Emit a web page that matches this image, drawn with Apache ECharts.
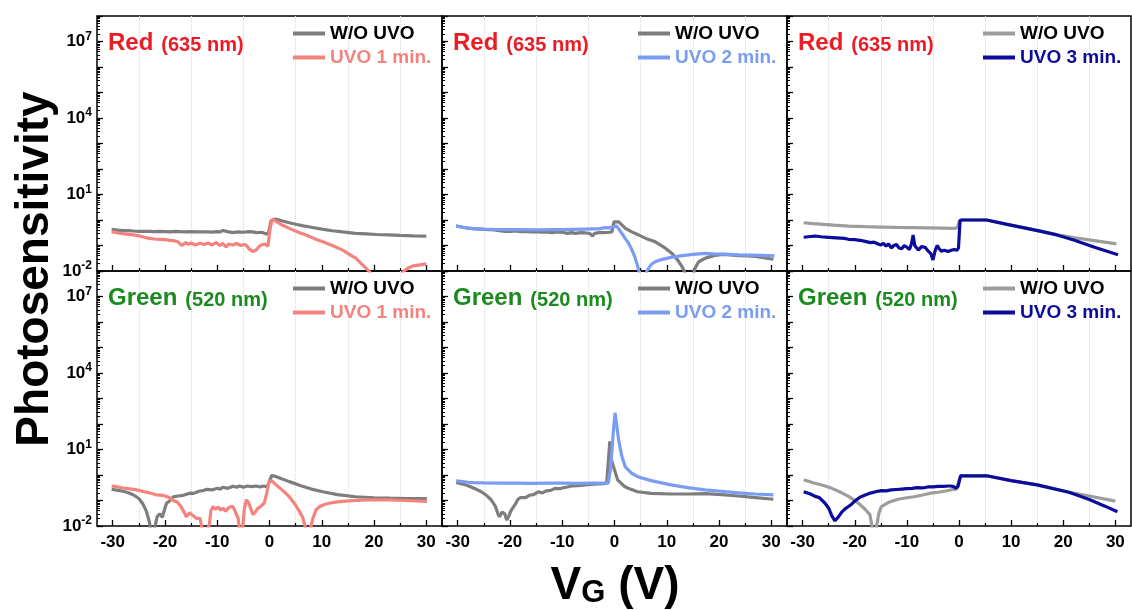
<!DOCTYPE html>
<html>
<head>
<meta charset="utf-8">
<title>Photosensitivity vs gate voltage</title>
<script src="https://cdn.jsdelivr.net/npm/echarts@6/dist/echarts.min.js"></script>
<style>
  html, body { margin: 0; padding: 0; background: #fff; }
  #chart { width: 1132px; height: 610px; }
</style>
</head>
<body>
<div id="chart"></div>
<script>
// ---- axis ticks ----------------------------------------------------------
const xMajorTicks = [-30, -20, -10, 0, 10, 20, 30];
const xMinorTicks = [-25, -15, -5, 5, 15, 25];
const yLabelledExponents = [-2, 1, 4, 7];

// ---- series: [gate voltage (V), photosensitivity] ------------------------
// Red (635 nm)
const redWoUvoA = [[-30.2,0.43],[-29,0.40],[-28,0.38],[-27,0.385],[-26,0.37],[-25,0.36],[-24,0.355],[-23,0.36],[-22,0.35],[-21,0.355],[-20,0.35],[-19,0.345],[-18,0.36],[-17,0.35],[-16,0.345],[-15,0.35],[-14,0.34],[-13,0.345],[-12,0.34],[-11,0.335],[-10,0.35],[-9.5,0.34],[-8.9,0.39],[-8,0.35],[-7,0.32],[-6,0.34],[-5,0.33],[-4,0.35],[-3.2,0.34],[-2.5,0.32],[-1.5,0.33],[-0.6,0.28],[-0.2,0.30],[0.3,0.92],[0.8,1.05],[1.5,1.05],[2.5,0.92],[3.8,0.78],[5,0.68],[6.5,0.59],[8,0.52],[10,0.44],[12,0.38],[14,0.34],[16.4,0.30],[18.5,0.285],[20.5,0.27],[22.8,0.26],[25,0.25],[27.5,0.24],[30,0.235]];
const redUvo1 = [[-30.2,0.35],[-29,0.31],[-28,0.29],[-27,0.275],[-26,0.26],[-25,0.24],[-24,0.21],[-23,0.19],[-22,0.18],[-21,0.175],[-20,0.17],[-19,0.16],[-18.4,0.155],[-17.5,0.14],[-16.8,0.10],[-16.5,0.089],[-16,0.13],[-15.5,0.11],[-15,0.125],[-14.2,0.105],[-13.3,0.123],[-12.5,0.11],[-11.8,0.125],[-11,0.105],[-10.2,0.13],[-9.5,0.10],[-9,0.12],[-8.3,0.088],[-7.8,0.115],[-7,0.105],[-6.3,0.12],[-5.5,0.10],[-4.8,0.11],[-4.4,0.10],[-3.8,0.07],[-3.2,0.058],[-2.6,0.065],[-1.9,0.095],[-1.3,0.11],[-0.9,0.115],[-0.3,0.095],[0.1,0.45],[0.5,1.05],[1.2,0.9],[2.5,0.62],[3.8,0.47],[5.5,0.33],[7,0.26],[8.5,0.19],[10.2,0.14],[12,0.10],[14,0.066],[15.5,0.042],[16.5,0.032],[17.5,0.02],[18.3,0.014],[19,0.01],[20.5,0.004],[22,0.0015],[23.5,0.003],[25,0.0065],[25.7,0.01],[26.5,0.013],[27.5,0.016],[28.5,0.017],[30,0.019]];
const redWoUvoB = [[-30.3,0.58],[-29,0.52],[-28,0.48],[-27,0.46],[-25,0.43],[-23,0.41],[-21,0.36],[-20,0.355],[-19,0.37],[-18,0.35],[-17,0.36],[-16,0.34],[-15,0.35],[-14,0.33],[-13,0.34],[-12,0.32],[-11,0.34],[-10,0.33],[-9,0.30],[-8.2,0.32],[-7.5,0.30],[-6.5,0.32],[-5.5,0.31],[-4.8,0.30],[-4.2,0.235],[-3.8,0.30],[-3,0.32],[-2,0.32],[-1,0.33],[-0.5,0.34],[-0.1,0.85],[0.2,1.0],[0.8,0.85],[1.5,0.62],[2.1,0.47],[3.2,0.35],[4.6,0.26],[6,0.19],[7.8,0.14],[9.5,0.085],[11,0.049],[12.2,0.025],[13,0.014],[13.5,0.008],[14.2,0.002],[14.9,0.006],[15.5,0.014],[16.1,0.023],[17.4,0.032],[19,0.04],[20.6,0.045],[22,0.043],[23.8,0.04],[25.5,0.039],[27,0.037],[28.5,0.033],[30.4,0.029]];
const redUvo2 = [[-30.3,0.59],[-29,0.52],[-28,0.48],[-27,0.46],[-25,0.44],[-23,0.43],[-20,0.42],[-18,0.42],[-15,0.41],[-12,0.42],[-10,0.42],[-8,0.43],[-6,0.44],[-4,0.45],[-3,0.45],[-1.8,0.50],[-1,0.49],[0,0.55],[0.4,0.58],[0.8,0.45],[1.5,0.28],[2.2,0.17],[2.7,0.123],[3.3,0.07],[3.9,0.035],[4.4,0.016],[4.8,0.008],[5.3,0.002],[5.8,0.005],[6.2,0.01],[7,0.018],[7.8,0.023],[9,0.028],[11,0.035],[13,0.04],[15,0.045],[17.4,0.049],[19,0.047],[21,0.046],[23.8,0.043],[26,0.042],[28,0.041],[30.6,0.039]];
const redWoUvoC = [[-29.8,0.78],[-28,0.72],[-26,0.67],[-24,0.63],[-21.2,0.58],[-18,0.55],[-15,0.53],[-12,0.51],[-9,0.50],[-6,0.49],[-3,0.48],[-0.9,0.47],[-0.3,0.50],[0.1,0.95],[0.5,1.0],[2,1.0],[4,1.0],[5.3,1.0],[9,0.69],[13,0.47],[16,0.35],[18.8,0.26],[22,0.205],[26,0.155],[30.2,0.115]];
const redUvo3 = [[-29.8,0.21],[-28.5,0.225],[-27.6,0.235],[-26.5,0.22],[-25,0.21],[-23.5,0.20],[-22,0.19],[-21.2,0.175],[-20,0.17],[-19,0.16],[-18,0.145],[-17,0.13],[-16.3,0.135],[-15.5,0.115],[-15,0.105],[-14.5,0.12],[-14,0.095],[-13.5,0.115],[-13,0.08],[-12.5,0.10],[-12,0.11],[-11.5,0.08],[-11,0.075],[-10.5,0.10],[-10,0.085],[-9.5,0.07],[-9.1,0.12],[-8.8,0.26],[-8.5,0.10],[-8.2,0.085],[-7.8,0.066],[-7.2,0.09],[-6.5,0.085],[-5.9,0.06],[-5.4,0.048],[-5,0.027],[-4.6,0.06],[-4.2,0.10],[-3.8,0.075],[-3.4,0.06],[-2.8,0.065],[-2.1,0.058],[-1.5,0.065],[-0.9,0.07],[-0.4,0.065],[-0.1,0.08],[0.2,0.95],[0.6,1.0],[2,1.0],[4,1.0],[5.3,1.0],[9,0.69],[13,0.47],[16,0.35],[18.8,0.26],[22,0.165],[26,0.085],[30.5,0.043]];

// Green (520 nm)
const greenWoUvoA = [[-30.2,0.275],[-29,0.25],[-28,0.23],[-27,0.20],[-26,0.165],[-25,0.12],[-24.3,0.078],[-23.6,0.04],[-23,0.015],[-22.6,0.004],[-22.2,0.005],[-21.8,0.012],[-21.5,0.023],[-21,0.03],[-20.5,0.022],[-20,0.05],[-19.7,0.078],[-19,0.10],[-18.4,0.14],[-17.5,0.15],[-16.5,0.16],[-15.2,0.195],[-14.5,0.19],[-13.5,0.23],[-12.5,0.25],[-12,0.275],[-11,0.26],[-10,0.30],[-9.5,0.28],[-8.9,0.33],[-8,0.30],[-7,0.36],[-6.3,0.33],[-5.7,0.37],[-5,0.33],[-4.2,0.37],[-3.5,0.35],[-2.5,0.37],[-1.8,0.34],[-1.3,0.37],[-0.4,0.35],[0.4,0.95],[1.2,0.88],[2.3,0.72],[3.8,0.55],[6,0.38],[8,0.28],[10.2,0.22],[13,0.17],[16.5,0.14],[20,0.128],[23,0.123],[26.5,0.12],[30.1,0.12]];
const greenUvo1 = [[-30.2,0.37],[-29,0.34],[-28,0.31],[-27,0.29],[-26,0.275],[-25,0.25],[-24,0.22],[-23,0.20],[-21.5,0.165],[-20.5,0.16],[-20,0.15],[-19.2,0.13],[-18.4,0.10],[-17.6,0.085],[-17,0.06],[-16.5,0.04],[-15.9,0.023],[-15.3,0.033],[-14.6,0.025],[-14,0.02],[-13.3,0.02],[-12.9,0.008],[-12.5,0.003],[-12,0.006],[-11.5,0.012],[-11.2,0.04],[-10.8,0.058],[-10.3,0.045],[-9.8,0.055],[-9.3,0.042],[-8.9,0.05],[-8.4,0.038],[-8,0.048],[-7.5,0.056],[-7,0.058],[-6.5,0.035],[-6,0.02],[-5.6,0.004],[-5.2,0.006],[-4.8,0.05],[-4.4,0.107],[-4,0.08],[-3.6,0.05],[-3.2,0.028],[-2.7,0.035],[-2.2,0.05],[-1.6,0.06],[-1,0.08],[-0.5,0.20],[-0.1,0.55],[0.4,0.60],[1.2,0.42],[2.5,0.25],[3.8,0.14],[5,0.065],[5.8,0.035],[6.3,0.023],[6.8,0.01],[7.3,0.003],[7.8,0.007],[8.3,0.02],[8.9,0.043],[9.6,0.058],[10.5,0.07],[11.4,0.078],[13,0.088],[14.5,0.095],[16.5,0.10],[19,0.105],[22.8,0.105],[26,0.10],[30.1,0.093]];
const greenWoUvoB = [[-30.3,0.51],[-29,0.44],[-28,0.38],[-27,0.31],[-26,0.25],[-25.5,0.22],[-24.5,0.16],[-23.6,0.107],[-22.8,0.06],[-22.3,0.03],[-22,0.023],[-21.5,0.035],[-21,0.03],[-20.6,0.017],[-20.2,0.025],[-19.8,0.04],[-19,0.07],[-18.5,0.11],[-18,0.13],[-17.7,0.145],[-17,0.13],[-16.3,0.16],[-15.5,0.17],[-14.6,0.22],[-13.8,0.20],[-13,0.24],[-12.2,0.25],[-11.4,0.30],[-10.5,0.29],[-10,0.31],[-9,0.34],[-8.2,0.37],[-7,0.38],[-6,0.40],[-5,0.42],[-4,0.44],[-3,0.45],[-2,0.46],[-1.5,0.48],[-1.2,3],[-0.9,21],[-0.6,4],[0,1.58],[0.6,0.65],[1.9,0.355],[3,0.28],[4.4,0.22],[7,0.19],[10.8,0.18],[14,0.18],[17.3,0.185],[20.5,0.17],[23.7,0.15],[27,0.13],[30.4,0.112]];
const greenUvo2 = [[-30.3,0.59],[-29,0.55],[-28,0.52],[-27,0.50],[-25,0.49],[-22,0.48],[-19,0.48],[-16,0.47],[-13,0.48],[-10,0.48],[-7,0.47],[-4,0.48],[-2,0.48],[-1.2,0.48],[-0.8,1.5],[-0.5,8],[-0.2,60],[0.1,275],[0.45,81],[0.77,25],[1.4,5.4],[2.05,2.1],[3.3,1.17],[4.6,0.83],[7,0.60],[10.8,0.41],[14,0.32],[17.3,0.26],[20.5,0.23],[23.7,0.20],[27,0.18],[30.4,0.165]];
const greenWoUvoC = [[-29.8,0.65],[-28,0.50],[-26,0.39],[-24.4,0.30],[-22.5,0.20],[-21.2,0.145],[-20,0.10],[-19.3,0.078],[-18.2,0.05],[-17.1,0.028],[-16.6,0.008],[-16.2,0.002],[-15.8,0.01],[-15.4,0.03],[-14.9,0.058],[-13.5,0.085],[-11.7,0.112],[-10,0.128],[-8.6,0.14],[-7,0.165],[-5.4,0.195],[-4,0.21],[-2.5,0.235],[-1,0.275],[-0.5,0.28],[0.3,0.93],[2,0.93],[5.3,0.93],[10,0.60],[15,0.41],[21.1,0.21],[25,0.15],[30,0.095]];
const greenUvo3 = [[-29.8,0.22],[-28.5,0.18],[-27.6,0.145],[-26.8,0.13],[-25.7,0.078],[-25,0.05],[-24.4,0.025],[-23.8,0.016],[-23.2,0.022],[-22.5,0.035],[-21.8,0.048],[-21.2,0.058],[-20.5,0.075],[-20,0.095],[-19,0.135],[-18,0.165],[-17,0.195],[-16,0.22],[-14.9,0.245],[-14,0.24],[-13,0.26],[-12,0.27],[-11,0.28],[-10,0.29],[-9,0.30],[-8,0.32],[-7,0.31],[-6,0.34],[-5,0.34],[-4,0.36],[-3,0.36],[-2,0.37],[-1.6,0.37],[-1,0.35],[-0.6,0.30],[-0.2,0.35],[0.3,0.93],[2,0.93],[5.3,0.93],[10,0.60],[15,0.41],[21.1,0.21],[25,0.11],[28,0.06],[30.4,0.036]];

// ---- styling ---------------------------------------------------------------
const FONT = '"Liberation Sans", Arial, Helvetica, sans-serif';
const GRAY_DARK = '#7d7d7d';
const GRAY_LIGHT = '#9d9d9d';
const RED = '#ec1c24';
const GREEN = '#1b8a1f';
const UVO_COLORS = ['#f5837d', '#7b9cf4', '#0b0b9c'];
const UVO_NAMES = ['UVO 1 min.', 'UVO 2 min.', 'UVO 3 min.'];

const COL_LEFT = [97, 442, 787];
const COL_WIDTH = [345, 345, 344];
const ROW_TOP = [16, 271];
const ROW_HEIGHT = 255;

const panels = [
  { row: 0, col: 0, band: 'Red', wave: '(635 nm)', color: RED, wo: redWoUvoA, uvo: redUvo1 },
  { row: 0, col: 1, band: 'Red', wave: '(635 nm)', color: RED, wo: redWoUvoB, uvo: redUvo2 },
  { row: 0, col: 2, band: 'Red', wave: '(635 nm)', color: RED, wo: redWoUvoC, uvo: redUvo3 },
  { row: 1, col: 0, band: 'Green', wave: '(520 nm)', color: GREEN, wo: greenWoUvoA, uvo: greenUvo1 },
  { row: 1, col: 1, band: 'Green', wave: '(520 nm)', color: GREEN, wo: greenWoUvoB, uvo: greenUvo2 },
  { row: 1, col: 2, band: 'Green', wave: '(520 nm)', color: GREEN, wo: greenWoUvoC, uvo: greenUvo3 }
];

// log-scale minor tick positions (2..9 × 10^n), as decade exponents
const yMinorTicks = [];
for (let n = -2; n < 8; n++) {
  for (let k = 2; k <= 9; k++) yMinorTicks.push(n + Math.log10(k));
}

const toDecades = pts => pts.map(([v, s]) => [v, Math.log10(s)]);

const grids = [], xAxes = [], yAxes = [], series = [], legends = [], titles = [];

panels.forEach((p, i) => {
  const woColor = p.col === 2 ? GRAY_LIGHT : GRAY_DARK;
  const uvoColor = UVO_COLORS[p.col];
  const uvoName = UVO_NAMES[p.col];
  const left = COL_LEFT[p.col], top = ROW_TOP[p.row];

  grids.push({
    left: left, top: top, width: COL_WIDTH[p.col], height: ROW_HEIGHT,
    show: true, borderColor: '#000', borderWidth: 1.5, backgroundColor: 'transparent'
  });

  // major x ticks (labelled on the bottom row)
  xAxes.push({
    type: 'value', gridIndex: i, min: -33, max: 33, position: 'bottom',
    axisLine: { show: false, onZero: false },
    axisTick: { show: true, inside: true, length: 6, customValues: xMajorTicks, lineStyle: { color: '#000', width: 1.3 } },
    axisLabel: { show: p.row === 1, customValues: xMajorTicks, margin: 8, color: '#000',
      fontFamily: FONT, fontWeight: 'bold', fontSize: 17 },
    splitLine: { show: false }
  });
  // minor x ticks with dotted guide lines
  xAxes.push({
    type: 'value', gridIndex: i, min: -33, max: 33, position: 'bottom',
    axisLine: { show: false, onZero: false },
    axisTick: { show: true, inside: true, length: 3, customValues: xMinorTicks, lineStyle: { color: '#000', width: 1.2 } },
    axisLabel: { show: false },
    splitLine: { show: true, lineStyle: { color: '#dadada', type: 'dotted', width: 1 } }
  });

  // decade ticks
  yAxes.push({
    type: 'value', gridIndex: i, min: -2, max: 8, interval: 1, position: 'left',
    axisLine: { show: false, onZero: false },
    axisTick: { show: true, inside: true, length: 6, lineStyle: { color: '#000', width: 1.3 } },
    axisLabel: {
      show: p.col === 0, margin: 5,
      formatter: v => yLabelledExponents.includes(v) ? `{b|10}{s|${v}}` : '',
      rich: {
        b: { fontFamily: FONT, fontWeight: 'bold', fontSize: 17, color: '#000', lineHeight: 22, verticalAlign: 'middle' },
        s: { fontFamily: FONT, fontWeight: 'bold', fontSize: 12, color: '#000', lineHeight: 14, verticalAlign: 'top' }
      }
    },
    splitLine: { show: false }
  });
  // minor log ticks
  yAxes.push({
    type: 'value', gridIndex: i, min: -2, max: 8, position: 'left',
    axisLine: { show: false, onZero: false },
    axisTick: { show: true, inside: true, length: 3, customValues: yMinorTicks, lineStyle: { color: '#000', width: 1 } },
    axisLabel: { show: false },
    splitLine: { show: false }
  });

  series.push({
    name: 'W/O UVO', type: 'line', xAxisIndex: 2 * i, yAxisIndex: 2 * i,
    data: toDecades(p.wo), showSymbol: false, symbol: 'none', clip: true,
    lineStyle: { color: woColor, width: 3.2 }, itemStyle: { color: woColor }, z: 2
  });
  series.push({
    name: uvoName, type: 'line', xAxisIndex: 2 * i, yAxisIndex: 2 * i,
    data: toDecades(p.uvo), showSymbol: false, symbol: 'none', clip: true,
    lineStyle: { color: uvoColor, width: 3.2 }, itemStyle: { color: uvoColor }, z: 3
  });

  legends.push({
    left: left + 196, top: top + 8, orient: 'vertical', padding: 0,
    icon: 'rect', itemWidth: 32, itemHeight: 4, itemGap: 5, selectedMode: false,
    textStyle: { fontFamily: FONT, fontWeight: 'bold', fontSize: 19, color: '#000' },
    data: [
      { name: 'W/O UVO', itemStyle: { color: woColor, borderWidth: 0 } },
      { name: uvoName, itemStyle: { color: uvoColor, borderWidth: 0 }, textStyle: { color: uvoColor } }
    ]
  });

  titles.push({
    text: `{a|${p.band}}{b|${p.wave}}`,
    left: left + 11, top: top + 13, padding: 0,
    textStyle: {
      rich: {
        a: { fontFamily: FONT, fontWeight: 'bold', fontSize: 24, color: p.color, lineHeight: 26, verticalAlign: 'bottom' },
        b: { fontFamily: FONT, fontWeight: 'bold', fontSize: 20, color: p.color, lineHeight: 23,
          verticalAlign: 'bottom', padding: [0, 0, 0, 8] }
      }
    }
  });
});

const chart = echarts.init(document.getElementById('chart'), null, { renderer: 'canvas' });
chart.setOption({
  backgroundColor: '#fff',
  animation: false,
  title: titles,
  legend: legends,
  grid: grids,
  xAxis: xAxes,
  yAxis: yAxes,
  series: series,
  graphic: [
    {
      type: 'text', x: 35, y: 269, rotation: Math.PI / 2,
      style: { text: 'Photosensitivity', fontFamily: FONT, fontWeight: 'bold', fontSize: 46,
        fill: '#000', align: 'center', verticalAlign: 'middle' }
    },
    {
      type: 'text', x: 615, y: 583,
      style: {
        text: '{v|V}{g|G}{p| (V)}', align: 'center', verticalAlign: 'middle',
        rich: {
          v: { fontFamily: FONT, fontWeight: 'bold', fontSize: 46, fill: '#000', lineHeight: 52, verticalAlign: 'bottom' },
          g: { fontFamily: FONT, fontWeight: 'bold', fontSize: 31, fill: '#000', lineHeight: 24, padding: [10, 0, 0, 0], verticalAlign: 'bottom' },
          p: { fontFamily: FONT, fontWeight: 'bold', fontSize: 46, fill: '#000', lineHeight: 52, verticalAlign: 'bottom' }
        }
      }
    }
  ]
});
</script>
</body>
</html>
